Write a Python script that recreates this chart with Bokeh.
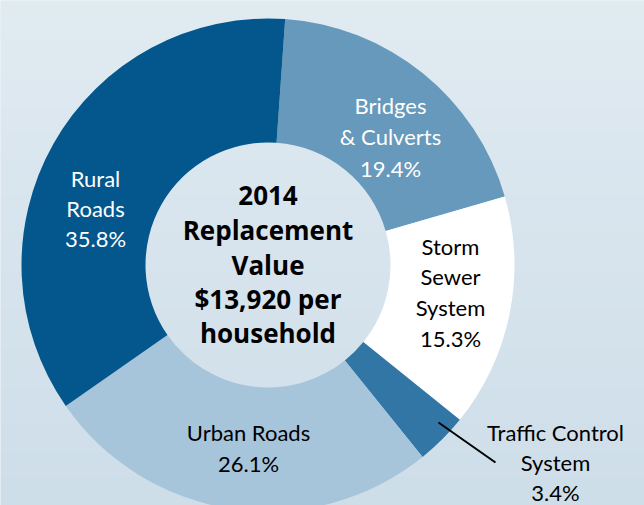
import numpy as np
from bokeh.plotting import figure
from bokeh.models import Range1d, ColumnDataSource
from bokeh.core.properties import value
from bokeh.embed import file_html
from bokeh.resources import INLINE

# ---- data (clockwise from the top) ----
categories = ["Bridges & Culverts", "Storm Sewer System", "Traffic Control System",
              "Urban Roads", "Rural Roads"]
shares = [19.4, 15.3, 3.4, 26.1, 35.8]
colors = ["#6699BB", "#FFFFFF", "#3276A5", "#A6C4DA", "#03578C"]
label_lines = [["Bridges", "& Culverts", "19.4%"],
               ["Storm", "Sewer", "System", "15.3%"],
               ["Traffic Control", "System", "3.4%"],
               ["Urban Roads", "26.1%"],
               ["Rural", "Roads", "35.8%"]]
label_colors = ["white", "black", "black", "black", "white"]
center_lines = ["2014", "Replacement", "Value", "$13,920 per", "household"]

# ---- layout (screen-like coordinates: x right, y up) ----
H = 505
W = 644
cx, cy = 267.5, H - 264.5
r_out, r_in = 246.5, 122.5
start_deg = 4.0  # clockwise from 12 o'clock
dy_fix = 10.5    # baseline correction

p = figure(width=W, height=H, output_backend="svg", toolbar_location=None,
           x_range=Range1d(0, W), y_range=Range1d(0, H),
           min_border=0, outline_line_color=None)
p.axis.visible = False
p.grid.visible = False
p.background_fill_color = "#D8E5EE"
p.border_fill_color = "#D8E5EE"

# background gradient
n = 256
top = np.array([225, 235, 242], dtype=float)
bot = np.array([206, 222, 233], dtype=float)
img = np.empty((n, 1), dtype=np.uint32)
view = img.view(dtype=np.uint8).reshape((n, 1, 4))
for i in range(n):
    t = i / (n - 1)  # row 0 = bottom
    c = bot * (1 - t) + top * t
    view[i, 0, 0] = int(c[0]); view[i, 0, 1] = int(c[1]); view[i, 0, 2] = int(c[2]); view[i, 0, 3] = 255
p.image_rgba(image=[img], x=0, y=0, dw=W, dh=H)

# wedges
cum = np.cumsum([0] + shares)
theta1 = start_deg + cum[:-1] * 3.6
theta2 = start_deg + cum[1:] * 3.6
src = ColumnDataSource(dict(
    cat=categories, share=shares, color=colors,
    start=np.deg2rad(90 - theta1), end=np.deg2rad(90 - theta2)))
p.annular_wedge(x=cx, y=cy, inner_radius=r_in, outer_radius=r_out,
                start_angle="start", end_angle="end", direction="clock",
                fill_color="color", line_color=None, source=src)

# slice label positions (centre x, first baseline y in screen px, line step)
label_pos = [(390, 115, 31.5), (450, 256, 30.7), (555, 442, 30), (248, 442, 31), (95, 188, 30)]
for lines, col, (lx, ly, step) in zip(label_lines, label_colors, label_pos):
    ys = [H - (ly + k * step) + dy_fix for k in range(len(lines))]
    p.text(x=[lx] * len(lines), y=ys, text=lines, text_color=col,
           text_font=value("Lato"), text_font_size="22px",
           text_align="center", text_baseline="alphabetic")

# leader line for traffic control
p.line(x=[438, 495], y=[H - 422, H - 462], line_color="black", line_width=2)

# centre text
cys = [205, 240, 275, 309, 343]
p.text(x=[cx] * len(center_lines), y=[H - v + dy_fix for v in cys], text=center_lines,
       text_color="black", text_font=value("Open Sans"), text_font_style="bold",
       text_font_size="26px", text_align="center", text_baseline="alphabetic")

open("out.html", "w").write(file_html(p, INLINE))
